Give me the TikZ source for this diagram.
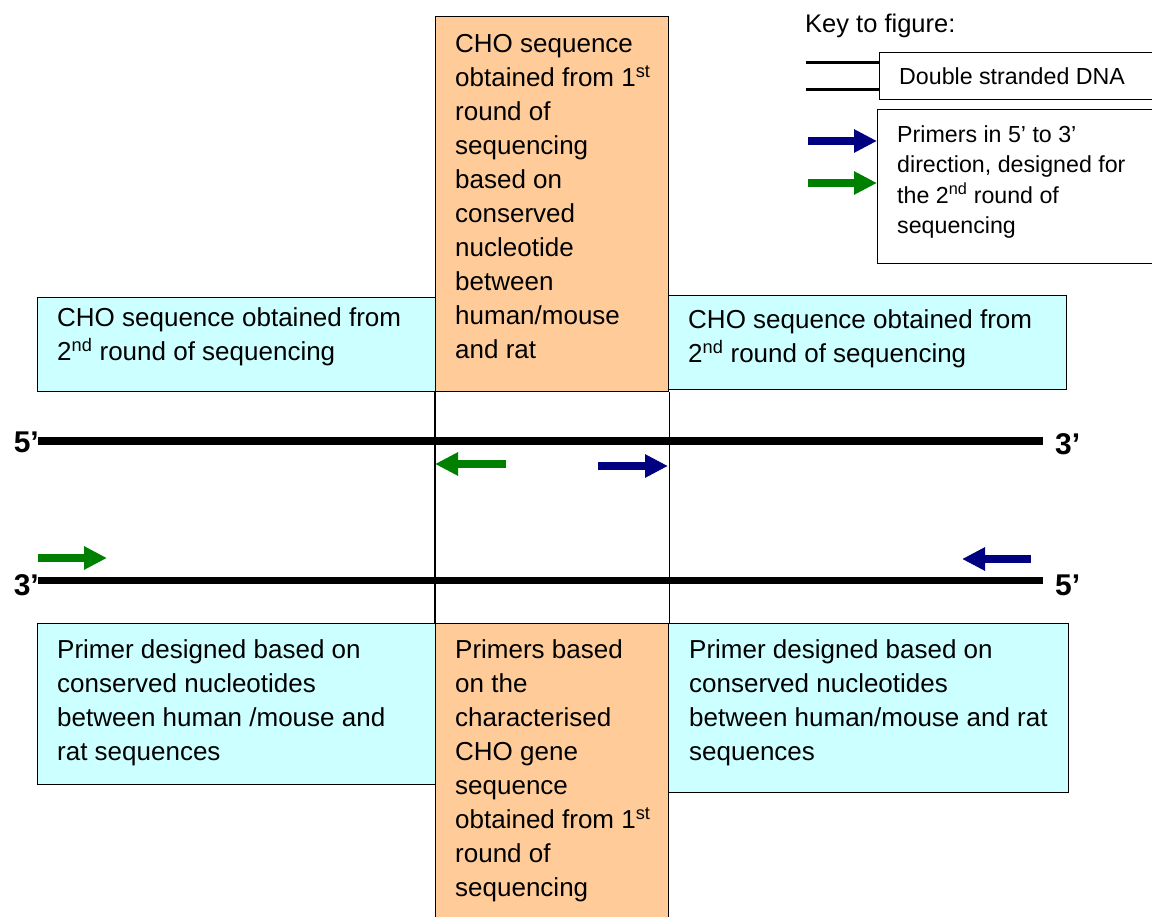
\documentclass[tikz,border=0pt]{standalone}
\usepackage{fontspec}
\setmainfont{Liberation Sans}
\usetikzlibrary{arrows.meta}
\definecolor{boxcyan}{HTML}{CCFFFF}
\definecolor{boxorange}{HTML}{FFCC99}
\definecolor{primerblue}{HTML}{000080}
\definecolor{primergreen}{HTML}{008000}
\tikzset{
  cyanbox/.style={draw=black, line width=1.4pt, fill=boxcyan, inner sep=0, anchor=north west},
  orangebox/.style={draw=black, line width=1.4pt, fill=boxorange, inner sep=0, anchor=north west},
  keybox/.style={draw=black, line width=1.4pt, fill=white, inner sep=0, anchor=north west},
  bodytext/.style={anchor=north west, inner sep=0, align=left, font=\fontsize{26}{34}\selectfont},
  keytext/.style={anchor=north west, inner sep=0, align=left, font=\fontsize{23.2}{30.5}\selectfont},
  endlabel/.style={inner sep=0, font=\fontsize{30}{34}\selectfont\bfseries},
  strand/.style={line width=7.5pt, black},
  bluep/.style={primerblue, line width=8.5pt, -{Triangle[length=23pt,width=22pt]}},
  greenp/.style={primergreen, line width=8.5pt, -{Triangle[length=23pt,width=22pt]}},
  guide/.style={draw=black, line width=1.4pt},
}
\begin{document}
\begin{tikzpicture}[x=1pt,y=-1pt]
\useasboundingbox (0,0) rectangle (1152,917);
\clip (0,0) rectangle (1152,917);
\fill[white] (0,0) rectangle (1152,917);

% cyan boxes
\node[cyanbox, minimum width=398pt, minimum height=94pt] (tl) at (37,297) {};
\node[cyanbox, minimum width=398pt, minimum height=94pt] (tr) at (668,295) {};
\node[cyanbox, minimum width=398pt, minimum height=161pt] (bl) at (37,623) {};
\node[cyanbox, minimum width=400pt, minimum height=169pt] (br) at (668,623) {};
% orange boxes
\node[orangebox, minimum width=233pt, minimum height=375pt] (tc) at (435,16) {};
\node[orangebox, minimum width=233pt, minimum height=320pt] (bc) at (435,623) {};

% guide lines between the orange boxes
\draw[guide] (tc.south west) -- (bc.north west);
\draw[guide] (tc.south east) -- (bc.north east);

% texts in boxes
\node[bodytext] (tct) at (455,28.2) {\strut CHO sequence\\obtained from 1\textsuperscript{st}\\round of\\sequencing\\based on\\conserved\\nucleotide\\between\\human/mouse\\and rat};
\node[bodytext] (tlt) at (57,302.2) {\strut CHO sequence obtained from\\2\textsuperscript{nd} round of sequencing};
\node[bodytext] (trt) at (688,304.2) {\strut CHO sequence obtained from\\2\textsuperscript{nd} round of sequencing};
\node[bodytext] (blt) at (57,634.2) {\strut Primer designed based on\\conserved nucleotides\\between human /mouse and\\rat sequences};
\node[bodytext] (bct) at (455,634.2) {\strut Primers based\\on the\\characterised\\CHO gene\\sequence\\obtained from 1\textsuperscript{st}\\round of\\sequencing};
\node[bodytext] (brt) at (689,634.2) {\strut Primer designed based on\\conserved nucleotides\\between human/mouse and rat\\sequences};

% DNA strands
\coordinate (s1a) at (38,441);
\coordinate (s1b) at (1043,441);
\coordinate (s2a) at (38,580.5);
\coordinate (s2b) at (1043,580.5);
\draw[strand] (s1a) -- (s1b);
\draw[strand] (s2a) -- (s2b);

% strand end labels
\node[endlabel, anchor=base east] (l5a) at (39,453) {5’};
\node[endlabel, anchor=base west] (r3a) at (1055,454) {3’};
\node[endlabel, anchor=base east] (l3b) at (39,595) {3’};
\node[endlabel, anchor=base west] (r5b) at (1055,595) {5’};

% primers
\coordinate (g1s) at (506,464);
\coordinate (g1e) at (435,464);
\coordinate (b1s) at (598,466);
\coordinate (b1e) at (668,466);
\coordinate (g2s) at (38,558);
\coordinate (g2e) at (107,558);
\coordinate (b2s) at (1031,559);
\coordinate (b2e) at (962,559);
\draw[greenp] (g1s) -- (g1e);
\draw[bluep] (b1s) -- (b1e);
\draw[greenp] (g2s) -- (g2e);
\draw[bluep] (b2s) -- (b2e);

% key
\node[font=\fontsize{25.5}{34}\selectfont, anchor=base west, inner sep=0] (keyt) at (805,33) {Key to figure:};
\node[keybox, minimum width=290pt, minimum height=47pt] (kdna) at (879,52) {};
\node[keybox, minimum width=290pt, minimum height=154pt] (kpr) at (877,109) {};
\coordinate (kl1a) at (806,63);
\coordinate (kl2a) at (806,90);
\draw[black, line width=3pt] (kl1a) -- (kl1a -| kdna.west);
\draw[black, line width=3pt] (kl2a) -- (kl2a -| kdna.west);
\node[font=\fontsize{23.2}{30.5}\selectfont, anchor=base west, inner sep=0] (kdnat) at (899,85) {Double stranded DNA};
\node[keytext] (kprt) at (897,120.65) {\strut Primers in 5’ to 3’\\direction, designed for\\the 2\textsuperscript{nd} round of\\sequencing};
\coordinate (kb) at (808,141);
\coordinate (kg) at (808,183);
\draw[bluep] (kb) -- (kb -| kpr.west);
\draw[greenp] (kg) -- (kg -| kpr.west);
\end{tikzpicture}
\end{document}
